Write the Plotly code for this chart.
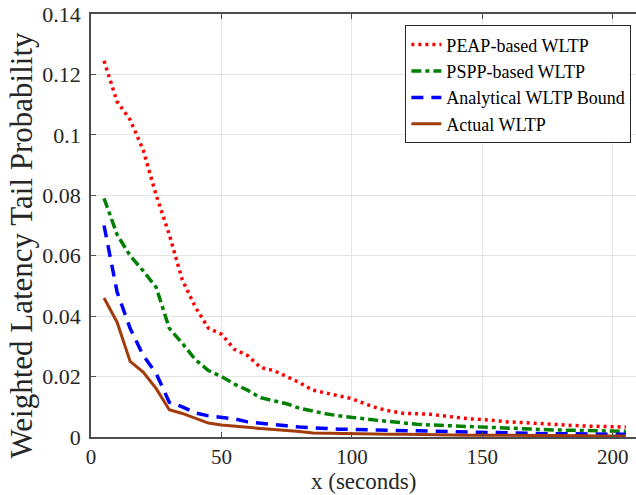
import plotly.graph_objects as go

x_vals = [5, 10, 15, 20, 25, 30, 35, 40, 45, 50, 55, 60, 65, 70, 75, 80, 85, 90, 95, 100,
          105, 110, 115, 120, 125, 130, 135, 140, 145, 150, 155, 160, 165, 170, 175, 180,
          185, 190, 195, 200, 205]

peap = [0.1245, 0.111, 0.105, 0.095, 0.080, 0.067, 0.052, 0.043, 0.036, 0.034, 0.029,
        0.027, 0.023, 0.022, 0.020, 0.018, 0.0155, 0.0145, 0.0135, 0.0127, 0.011, 0.0095,
        0.0085, 0.0078, 0.0077, 0.0075, 0.007, 0.0065, 0.006, 0.0058, 0.0053, 0.005,
        0.0048, 0.0045, 0.0042, 0.004, 0.0038, 0.0036, 0.0035, 0.0034, 0.0033]

pspp = [0.079, 0.067, 0.060, 0.055, 0.0495, 0.036, 0.031, 0.0256, 0.022, 0.020, 0.0175,
        0.0155, 0.013, 0.012, 0.011, 0.0095, 0.0085, 0.0077, 0.007, 0.0064, 0.006, 0.0055,
        0.005, 0.0046, 0.0042, 0.004, 0.0038, 0.0036, 0.0034, 0.0033, 0.003, 0.0028,
        0.0027, 0.0026, 0.0024, 0.0023, 0.0022, 0.0021, 0.002, 0.002, 0.0019]

bound = [0.070, 0.048, 0.036, 0.027, 0.021, 0.0115, 0.010, 0.008, 0.007, 0.0066, 0.006,
         0.005, 0.0045, 0.004, 0.0037, 0.0033, 0.003, 0.0028, 0.0026, 0.0025, 0.0024,
         0.0022, 0.0021, 0.002, 0.0019, 0.0018, 0.0017, 0.0016, 0.0015, 0.0014, 0.0013,
         0.0013, 0.0012, 0.0012, 0.0011, 0.0011, 0.001, 0.001, 0.001, 0.0009, 0.0009]

actual = [0.046, 0.038, 0.025, 0.0215, 0.016, 0.009, 0.0078, 0.0063, 0.0046, 0.004,
          0.0037, 0.0032, 0.0028, 0.0025, 0.0022, 0.0018, 0.0013, 0.0012, 0.0012, 0.0011,
          0.001, 0.001, 0.0009, 0.0009, 0.0008, 0.0008, 0.0007, 0.0007, 0.0006, 0.0006,
          0.0006, 0.0005, 0.0005, 0.0005, 0.0004, 0.0004, 0.0004, 0.0004, 0.0003, 0.0003,
          0.0003]

names = ["PEAP-based WLTP", "PSPP-based WLTP", "Analytical WLTP Bound", "Actual WLTP"]
x_ticks = [0, 50, 100, 150, 200]
y_ticks = [0, 0.02, 0.04, 0.06, 0.08, 0.1, 0.12, 0.14]
y_tick_text = ["0", "0.02", "0.04", "0.06", "0.08", "0.1", "0.12", "0.14"]
x_title = "x (seconds)"
y_title = "Weighted Latency Tail Probability"

FONT = "Liberation Serif"

fig = go.Figure()
fig.add_trace(go.Scatter(x=x_vals, y=peap, name=names[0], mode="lines",
                         line=dict(color="#FF0000", width=3.5, dash="3px,4px")))
fig.add_trace(go.Scatter(x=x_vals, y=pspp, name=names[1], mode="lines",
                         line=dict(color="#008000", width=3.5, dash="10px,4px,4px,4px")))
fig.add_trace(go.Scatter(x=x_vals, y=bound, name=names[2], mode="lines",
                         line=dict(color="#0000FF", width=3.5, dash="12px,8px")))
fig.add_trace(go.Scatter(x=x_vals, y=actual, name=names[3], mode="lines",
                         line=dict(color="rgb(163,60,12)", width=3)))

fig.update_layout(
    width=636, height=495,
    margin=dict(l=91, r=0, t=14, b=58),
    paper_bgcolor="white", plot_bgcolor="white",
    font=dict(family=FONT, size=22, color="#262626"),
    showlegend=True,
    legend=dict(x=0.9915, xanchor="right", y=0.973, yanchor="top",
                bgcolor="white", bordercolor="#262626", borderwidth=1,
                font=dict(family=FONT, size=18, color="#000000"),
                itemwidth=30, tracegroupgap=0),
    xaxis=dict(range=[0, 208.9], tickvals=x_ticks, ticks="inside", ticklen=5,
               tickcolor="#4D4D4D", showline=True, linecolor="#4D4D4D", linewidth=1.5,
               mirror="ticks", showgrid=True, gridcolor="#E3E3E3", gridwidth=1,
               zeroline=False, ticklabelstandoff=0,
               tickfont=dict(family=FONT, size=21, color="#262626")),
    yaxis=dict(range=[0, 0.14], tickvals=y_ticks, ticktext=y_tick_text, ticks="inside",
               ticklen=5, tickcolor="#4D4D4D", showline=True, linecolor="#4D4D4D",
               linewidth=1.5, mirror=False, showgrid=True, gridcolor="#E3E3E3",
               gridwidth=1, zeroline=False, ticklabelstandoff=4,
               tickfont=dict(family=FONT, size=22, color="#262626")),
    annotations=[
        dict(text=x_title, xref="paper", yref="paper", x=0.5, y=0, xanchor="center",
             yanchor="bottom", yshift=-58, showarrow=False, borderpad=0,
             font=dict(family=FONT, size=23, color="#262626")),
        dict(text=y_title, xref="paper", yref="paper", x=0, y=0.5, xanchor="center",
             yanchor="middle", xshift=-70, yshift=-20, textangle=-90, showarrow=False,
             font=dict(family=FONT, size=31, color="#262626")),
    ],
)

fig.write_html("out.html")
